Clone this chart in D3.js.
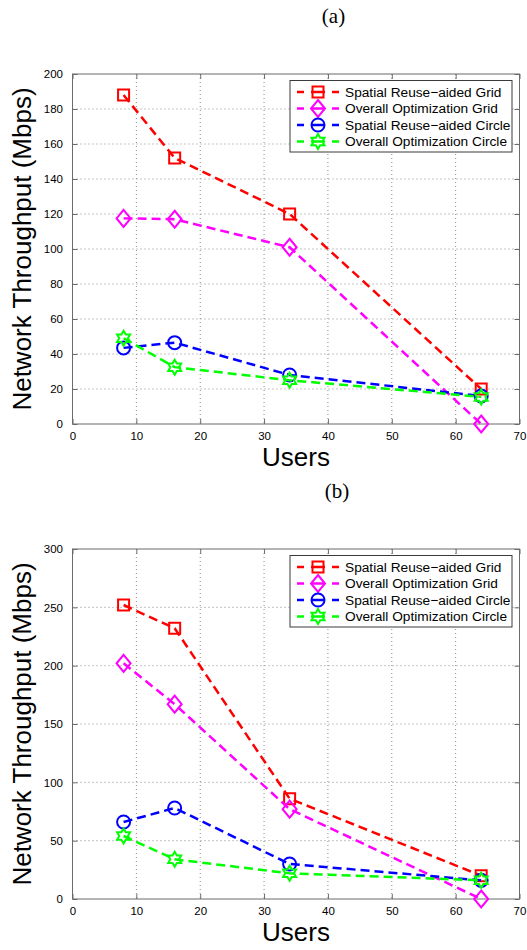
<!DOCTYPE html>
<html>
<head>
<meta charset="utf-8">
<script src="https://cdn.jsdelivr.net/npm/d3@7"></script>
<style>
  body { margin: 0; background: #fff; }
  svg { display: block; }
  text { font-family: "Liberation Sans", Arial, Helvetica, sans-serif; fill: #000; }
</style>
</head>
<body>
<svg id="chart" width="527" height="950"></svg>
<script>
// ---- data ----
const users = [8, 16, 34, 64];
const seriesNames = [
  "Spatial Reuse\u2212aided Grid",
  "Overall Optimization Grid",
  "Spatial Reuse\u2212aided Circle",
  "Overall Optimization Circle"
];
const seriesColors = ["#ff0000", "#ff00ff", "#0000ff", "#00ff00"];
const seriesMarkers = ["square", "diamond", "circle", "hexagram"];
const xTicks = [0, 10, 20, 30, 40, 50, 60, 70];

// panel (a)
const reuseGridA   = [188, 152, 120, 20];
const optGridA     = [117.5, 117, 101, 0];
const reuseCircleA = [43.5, 46.5, 28, 16];
const optCircleA   = [49, 32.5, 25, 15.5];
const yTicksA = [0, 20, 40, 60, 80, 100, 120, 140, 160, 180, 200];

// panel (b)
const reuseGridB   = [252, 232, 86, 20];
const optGridB     = [202, 167, 77, 0];
const reuseCircleB = [66, 78, 30, 16];
const optCircleB   = [54, 34, 22, 16];
const yTicksB = [0, 50, 100, 150, 200, 250, 300];

// ---- layout ----
const svg = d3.select("#chart");
svg.append("rect").attr("width", 527).attr("height", 950).attr("fill", "#fff");

const plotLeft = 72.5, plotRight = 519.5;
const panels = [
  { tag: "(a)", tagX: 333.5, tagY: 22.5, top: 74, bottom: 424, yTicks: yTicksA,
    series: [reuseGridA, optGridA, reuseCircleA, optCircleA] },
  { tag: "(b)", tagX: 337, tagY: 497.5, top: 549, bottom: 899, yTicks: yTicksB,
    series: [reuseGridB, optGridB, reuseCircleB, optCircleB] }
];

const axisColor = "#6b6b6b";

function markerPath(type) {
  if (type === "square") {
    const h = 5.5;
    return `M${-h},${-h}H${h}V${h}H${-h}Z`;
  }
  if (type === "diamond") {
    const w = 7, h = 8.5;
    return `M0,${-h}L${w},0L0,${h}L${-w},0Z`;
  }
  if (type === "circle") {
    const r = 6.5;
    return `M${r},0A${r},${r} 0 1,1 ${-r},0A${r},${r} 0 1,1 ${r},0Z`;
  }
  // six-pointed star
  const R = 7.5, r = R / Math.sqrt(3);
  const pts = d3.range(12).map(k => {
    const a = -Math.PI / 2 + k * Math.PI / 6;
    const rr = k % 2 === 0 ? R : r;
    return [rr * Math.cos(a), rr * Math.sin(a)];
  });
  return "M" + pts.map(p => p.join(",")).join("L") + "Z";
}

panels.forEach(p => {
  const yMax = p.yTicks[p.yTicks.length - 1];
  const x = d3.scaleLinear().domain([0, 70]).range([plotLeft, plotRight]);
  const y = d3.scaleLinear().domain([0, yMax]).range([p.bottom, p.top]);
  const g = svg.append("g");

  // panel tag
  g.append("text")
    .attr("x", p.tagX).attr("y", p.tagY)
    .attr("text-anchor", "middle")
    .style("font-family", "'Liberation Serif', 'DejaVu Serif', serif")
    .style("font-size", "21px")
    .text(p.tag);

  // dotted grid
  const grid = g.append("g")
    .attr("stroke", "#8a8a8a").attr("stroke-width", 1)
    .attr("stroke-dasharray", "1,3");
  xTicks.slice(1, -1).forEach(t => {
    grid.append("line").attr("x1", x(t)).attr("x2", x(t))
      .attr("y1", p.top).attr("y2", p.bottom);
  });
  p.yTicks.slice(1, -1).forEach(t => {
    grid.append("line").attr("x1", plotLeft).attr("x2", plotRight)
      .attr("y1", y(t)).attr("y2", y(t));
  });

  // axes with inward ticks on all four sides
  const tickLen = 5;
  const axB = g.append("g").attr("transform", `translate(0,${p.bottom})`)
    .call(d3.axisBottom(x).tickValues(xTicks).tickSize(-tickLen).tickPadding(3 + tickLen).tickFormat(d3.format("d")));
  const axT = g.append("g").attr("transform", `translate(0,${p.top})`)
    .call(d3.axisTop(x).tickValues(xTicks).tickSize(-tickLen).tickFormat(""));
  const axL = g.append("g").attr("transform", `translate(${plotLeft},0)`)
    .call(d3.axisLeft(y).tickValues(p.yTicks).tickSize(-tickLen).tickPadding(4.5 + tickLen).tickFormat(d3.format("d")));
  const axR = g.append("g").attr("transform", `translate(${plotRight},0)`)
    .call(d3.axisRight(y).tickValues(p.yTicks).tickSize(-tickLen).tickFormat(""));
  [axB, axT, axL, axR].forEach(a => {
    a.select(".domain").remove();
    a.selectAll("line").attr("stroke", axisColor);
    a.selectAll("text").style("font-size", "11.5px").attr("fill", "#000");
  });
  g.append("rect")
    .attr("x", plotLeft).attr("y", p.top)
    .attr("width", plotRight - plotLeft).attr("height", p.bottom - p.top)
    .attr("fill", "none").attr("stroke", axisColor).attr("stroke-width", 1);

  // axis titles
  g.append("text")
    .attr("x", (plotLeft + plotRight) / 2).attr("y", p.bottom + 42)
    .attr("text-anchor", "middle").style("font-size", "26px")
    .text("Users");
  g.append("text")
    .attr("transform", `translate(31,${(p.top + p.bottom) / 2}) rotate(-90)`)
    .attr("text-anchor", "middle").style("font-size", "26px")
    .text("Network Throughput (Mbps)");

  // series: dashed lines with open markers
  const line = d3.line().x((d, i) => x(users[i])).y(d => y(d));
  p.series.forEach((vals, si) => {
    const sg = g.append("g");
    sg.append("path").datum(vals)
      .attr("d", line).attr("fill", "none")
      .attr("stroke", seriesColors[si]).attr("stroke-width", 2.5)
      .attr("stroke-dasharray", "9,5");
    sg.selectAll("path.mk").data(vals).join("path")
      .attr("class", "mk")
      .attr("transform", (d, i) => `translate(${x(users[i])},${y(d)})`)
      .attr("d", markerPath(seriesMarkers[si]))
      .attr("fill", "none").attr("stroke", seriesColors[si]).attr("stroke-width", 2);
  });

  // legend
  const lg = g.append("g").attr("transform", `translate(290,${p.top + 6.5})`);
  lg.append("rect").attr("width", 222).attr("height", 71.5)
    .attr("fill", "#fff").attr("stroke", "#3a3a3a").attr("stroke-width", 1);
  seriesNames.forEach((name, si) => {
    const ry = 11.5 + si * 16.5;
    lg.append("line").attr("x1", 7).attr("x2", 49).attr("y1", ry).attr("y2", ry)
      .attr("stroke", seriesColors[si]).attr("stroke-width", 2.5)
      .attr("stroke-dasharray", "7,7,14,7,7");
    lg.append("path").attr("transform", `translate(28,${ry})`)
      .attr("d", markerPath(seriesMarkers[si]))
      .attr("fill", "none").attr("stroke", seriesColors[si]).attr("stroke-width", 2);
    lg.append("text").attr("x", 55).attr("y", ry).attr("dy", "0.35em")
      .style("font-size", "13.7px").text(name);
  });
});
</script>
</body>
</html>
